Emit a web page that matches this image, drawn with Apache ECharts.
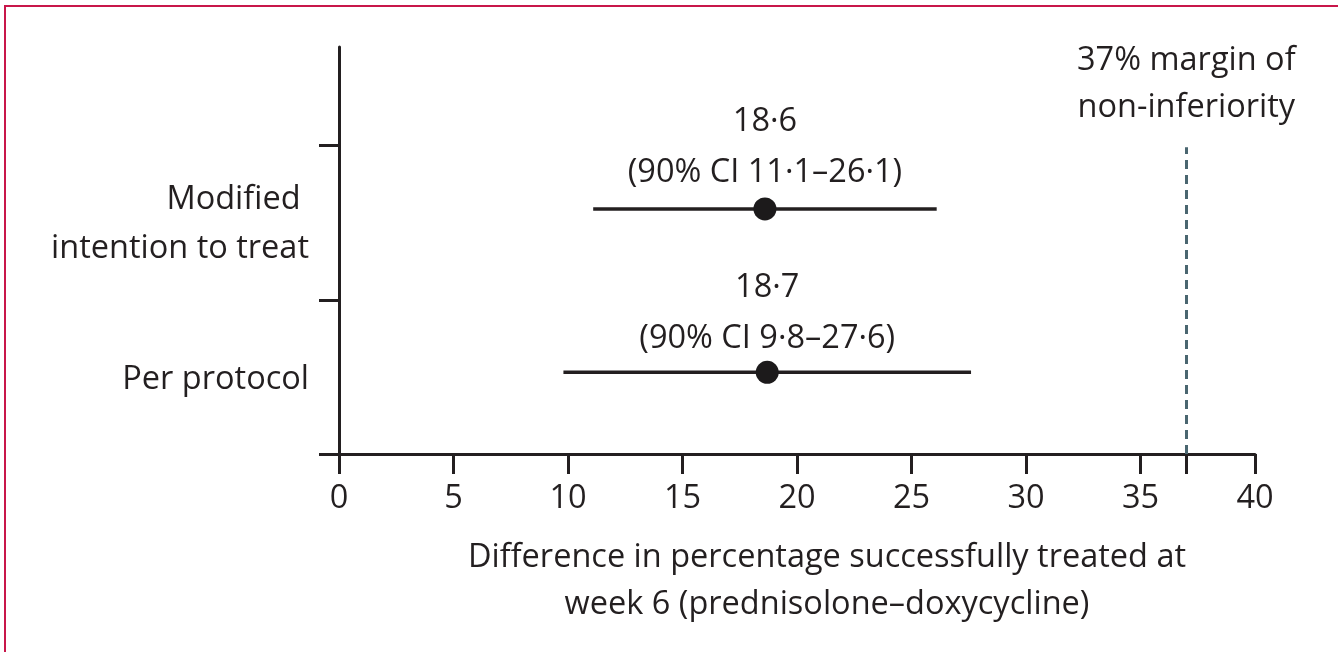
<!DOCTYPE html>
<html>
<head>
<meta charset="utf-8">
<script src="https://cdn.jsdelivr.net/npm/echarts@6/dist/echarts.min.js"></script>
<style>
  html, body { margin: 0; padding: 0; background: #fff; }
  #frame { position: absolute; left: 4px; top: 5px; width: 1334px; height: 647px;
           border-top: 2px solid #c8164a; border-left: 2px solid #c8164a; }
  #chart { position: absolute; left: 0; top: 0; width: 1338px; height: 652px; }
</style>
</head>
<body>
<div id="frame"></div>
<div id="chart"></div>
<script>
// ---- data ----
const categories = ['Per protocol', 'Modified \nintention to treat'];
const rowY = [0.53, 1.59];
const estimates = [18.7, 18.6];
const ciLow = [9.8, 11.1];
const ciHigh = [27.6, 26.1];
const estText = ['18·7', '18·6'];
const ciText = ['(90% CI 9·8–27·6)', '(90% CI 11·1–26·1)'];
const xTicks = [0, 5, 10, 15, 20, 25, 30, 35, 40];
const yTicks = [0, 1, 2];
const marginValue = 37;
const marginText = '37% margin of\nnon-inferiority';
const xTitle = 'Difference in percentage successfully treated at\nweek 6 (prednisolone–doxycycline)';

const FONT = 'Open Sans';
const FS = 32.5;
const INK = '#231f20';

const chart = echarts.init(document.getElementById('chart'), null, { renderer: 'canvas' });

const series = [];
categories.forEach((c, i) => {
  series.push({
    type: 'line',
    data: [[ciLow[i], rowY[i]], [ciHigh[i], rowY[i]]],
    symbol: 'none',
    lineStyle: { color: INK, width: 3.5 },
    z: 3,
    silent: true
  });
  series.push({
    type: 'scatter',
    data: [[estimates[i], rowY[i]]],
    symbolSize: 23,
    itemStyle: { color: '#1c1a1b', opacity: 1 },
    z: 4,
    label: {
      show: true,
      position: 'top',
      distance: i === 1 ? -1 : -3,
      formatter: estText[i] + '\n' + ciText[i],
      fontFamily: FONT,
      fontSize: FS,
      lineHeight: 51,
      color: INK,
      opacity: 1,
      align: 'center'
    }
  });
  // row label
  series.push({
    type: 'scatter',
    data: [[0, rowY[i]]],
    symbolSize: 0,
    silent: true,
    itemStyle: { opacity: 1 },
    label: {
      show: true,
      position: 'left',
      distance: 30,
      offset: [0, i === 1 ? 15 : 7],
      formatter: c,
      fontFamily: FONT,
      fontSize: FS,
      lineHeight: 49,
      color: INK,
      opacity: 1,
      align: 'right'
    }
  });
});

series.push({
  type: 'line',
  data: [],
  markLine: {
    silent: true,
    symbol: 'none',
    lineStyle: { color: '#4a6670', width: 3, type: [9, 6] },
    label: {
      show: true,
      position: 'end',
      distance: 16,
      formatter: marginText,
      fontFamily: FONT,
      fontSize: FS,
      lineHeight: 47,
      color: INK,
      align: 'center'
    },
    data: [[{ coord: [marginValue, 0] }, { coord: [marginValue, 1.99] }]]
  }
});

chart.setOption({
  animation: false,
  backgroundColor: 'transparent',
  grid: { left: 339, right: 83, top: 47, bottom: 198, containLabel: false },
  xAxis: {
    type: 'value',
    min: 0, max: 40, interval: 5,
    axisLine: { show: true, lineStyle: { color: INK, width: 3 } },
    axisTick: { show: true, length: 20, lineStyle: { color: INK, width: 3 },
                customValues: xTicks.concat([marginValue]) },
    axisLabel: { show: true, margin: 28, fontFamily: FONT, fontSize: FS, color: INK,
                 customValues: xTicks },
    splitLine: { show: false },
    name: xTitle,
    nameLocation: 'middle',
    nameGap: 80,
    nameTextStyle: { fontFamily: FONT, fontSize: FS, lineHeight: 47, color: INK,
                     padding: [0, 0, 0, 60], verticalAlign: 'top' }
  },
  yAxis: {
    type: 'value',
    min: 0, max: 2.64,
    axisLine: { show: true, lineStyle: { color: INK, width: 3 } },
    axisTick: { show: true, length: 20, lineStyle: { color: INK, width: 3 },
                customValues: yTicks },
    axisLabel: { show: false },
    splitLine: { show: false }
  },
  series: series
});
</script>
</body>
</html>
